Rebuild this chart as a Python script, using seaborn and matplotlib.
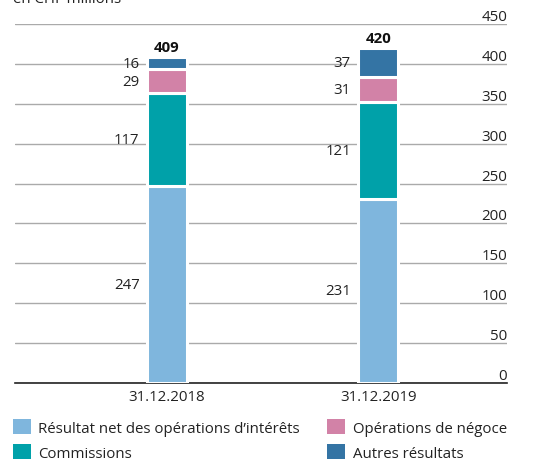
import matplotlib
matplotlib.use("Agg")
import matplotlib.pyplot as plt
import seaborn as sns
import numpy as np
from matplotlib.patches import Patch

dates = ["31.12.2018", "31.12.2019"]
interets = [247, 231]
commissions = [117, 121]
negoce = [29, 31]
autres = [16, 37]
totals = [409, 420]

series_names = ["Résultat net des opérations d\u2019intérêts", "Commissions",
                "Opérations de négoce", "Autres résultats"]
series_vals = [interets, commissions, negoce, autres]
colors = ["#7fb6dd", "#00a1a9", "#d282a7", "#3474a4"]
yticks = [0, 50, 100, 150, 200, 250, 300, 350, 400, 450]

sns.set_theme(style="white")
plt.rcParams["font.family"] = ["Open Sans", "DejaVu Sans"]
fs = 10.8

fig = plt.figure(figsize=(5.44, 4.64), dpi=100)
ax = fig.add_axes([15/544, 1-384/464, (507-15)/544, (384-25)/464])

bottom = np.zeros(len(dates))
for name, vals, c in zip(series_names, series_vals, colors):
    sns.barplot(x=dates, y=vals, bottom=bottom, color=c, width=0.19,
                saturation=1, edgecolor="white", linewidth=2.2, ax=ax, zorder=3)
    for i, v in enumerate(vals):
        ax.text(i - 0.13, bottom[i] + v/2, str(v), ha="right", va="center",
                fontsize=fs, color="#222222")
    bottom = bottom + np.array(vals)

for i, t in enumerate(totals):
    ax.text(i, t + 4, str(t), ha="center", va="bottom", fontsize=fs,
            fontweight="bold", color="#111111")

ax.set_xlim(-0.72, 1.61)
ax.set_ylim(0, 450)
ax.set_yticks(yticks)
ax.yaxis.set_ticks_position("right")
ax.yaxis.grid(True, color="#aaaaaa", linewidth=1)
ax.set_axisbelow(True)
ax.tick_params(axis="y", length=0, pad=0, labelsize=fs, labelcolor="#222222")
for lab in ax.get_yticklabels():
    lab.set_horizontalalignment("right")
    lab.set_verticalalignment("bottom")
ax.tick_params(axis="x", length=0, pad=4, labelsize=fs, labelcolor="#222222")
for s in ["left", "right", "top"]:
    ax.spines[s].set_visible(False)
ax.spines["bottom"].set_color("#222222")
ax.spines["bottom"].set_linewidth(1.2)
ax.set_xlabel("")
ax.set_ylabel("")

fig.text(13/544, 1 - 3/464, "en CHF millions", ha="left", va="baseline",
         fontsize=fs, color="#222222")

handles = [Patch(facecolor=c, edgecolor="none") for c in colors]
fig.legend(handles, series_names, ncol=2, loc="upper left",
           bbox_to_anchor=(13/544, 1 - 420/464), frameon=False,
           handlelength=1.2, handleheight=1.2, handletextpad=0.5,
           columnspacing=1.8, labelspacing=0.55, borderpad=0, borderaxespad=0,
           fontsize=fs, labelcolor="#222222")

fig.savefig("out.png", dpi=100)
